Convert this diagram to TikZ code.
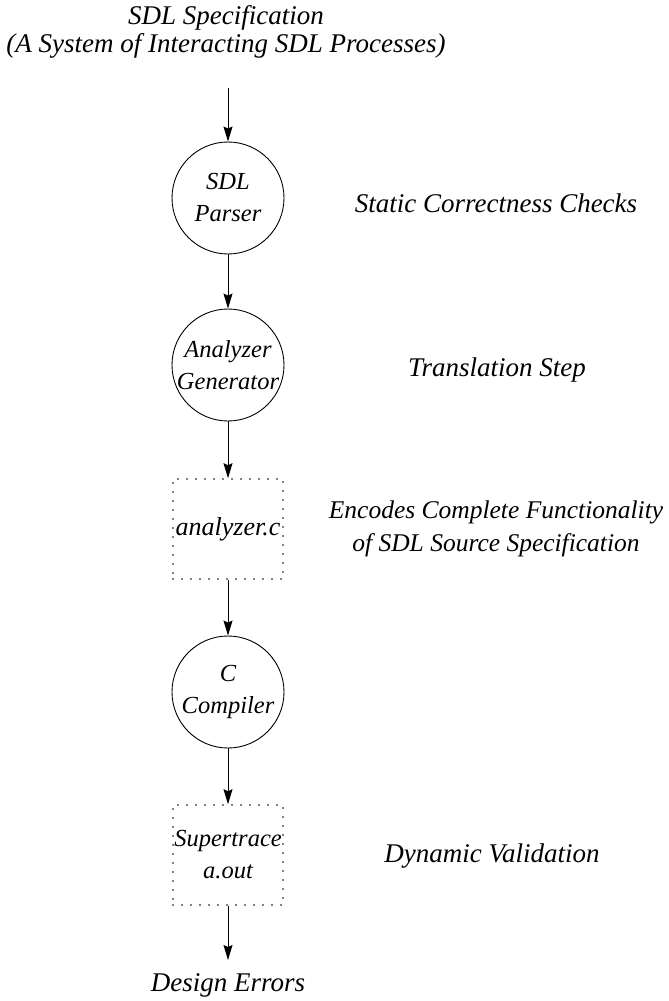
\documentclass[tikz,border=0pt]{standalone}
\usepackage{fontspec}
\setmainfont{Liberation Serif}
\usetikzlibrary{arrows.meta}
\begin{document}
\begin{tikzpicture}[x=1pt,y=-1pt,
  every node/.style={font=\fontsize{27}{32}\selectfont\itshape, align=center, inner sep=0pt},
  proc/.style={draw, circle, minimum size=112pt, inner sep=0pt, line width=0.9pt},
  filebox/.style={draw, minimum width=110pt, minimum height=100pt, inner sep=0pt,
    line width=1.6pt, dash pattern=on 0pt off 9pt, line cap=round},
  intext/.style={font=\fontsize{24.5}{32}\selectfont\itshape},
  flow/.style={line width=1pt, -{Stealth[length=15pt,width=9pt,inset=2pt]}}]
\useasboundingbox (0,0) rectangle (669,1001);
\node[font=\fontsize{27}{28}\selectfont\itshape] (spec) at (226,32) {SDL Specification\\(A System of Interacting SDL Processes)};
\coordinate (s0) at (228,88);
\node[proc] (parser) at (228,198) {};
\node[intext] (parsert) at (parser.center) {SDL\\Parser};
\node[proc] (gen) at (228,365) {};
\node[intext] (gent) at (gen.center) {Analyzer\\Generator};
\node[filebox] (ac) at (228,529) {};
\node[font=\fontsize{26}{32}\selectfont\itshape] (act) at (ac.center) {analyzer.c};
\node[proc] (cc) at (228,692) {};
\node[intext] (cct) at (cc.center) {C\\Compiler};
\node[filebox] (aout) at (228,855) {};
\node[intext] (aoutt) at (aout.center) {Supertrace\\a.out};
\coordinate (e1) at (228,960);
\node (err) at (228,985) {Design Errors};
\node (l1) at (496,203) {Static Correctness Checks};
\node (l2) at (497,370) {Translation Step};
\node[font=\fontsize{25.5}{33}\selectfont\itshape] (l3) at (496,529) {Encodes Complete Functionality\\of SDL Source Specification};
\node (l4) at (492,856) {Dynamic Validation};
\draw[flow] (s0) -- (parser);
\draw[flow] (parser) -- (gen);
\draw[flow] (gen) -- (ac);
\draw[flow] (ac) -- (cc);
\draw[flow] (cc) -- (aout);
\draw[flow] (aout) -- (e1);
\end{tikzpicture}
\end{document}
